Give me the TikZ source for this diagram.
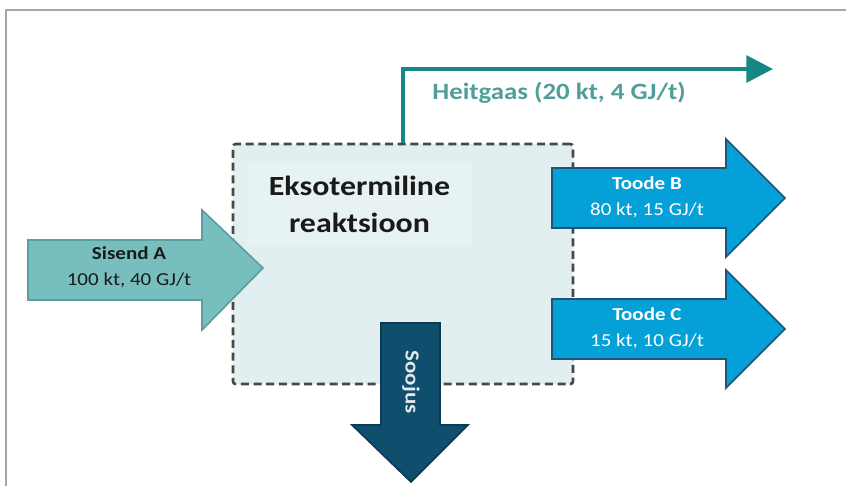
\documentclass[tikz,border=0pt]{standalone}
\usepackage{fontspec}
\setmainfont{Carlito}[FakeStretch=1.15]
\usepackage{tikz}
\usetikzlibrary{arrows.meta,positioning}
\definecolor{framegrey}{HTML}{A6A6A6}
\definecolor{boxfill}{HTML}{E1EFF0}
\definecolor{boxedge}{HTML}{474747}
\definecolor{titlefill}{HTML}{E7F3F3}
\definecolor{feedfill}{HTML}{78BEBF}
\definecolor{feededge}{HTML}{5A9E9F}
\definecolor{prodfill}{HTML}{05A0D7}
\definecolor{prodedge}{HTML}{1C5578}
\definecolor{heatfill}{HTML}{0F4E6C}
\definecolor{heatedge}{HTML}{0B3A52}
\definecolor{gasline}{HTML}{168883}
\definecolor{gastext}{HTML}{4F9E99}
\definecolor{ink}{HTML}{1A1A1A}

\begin{document}
\begin{tikzpicture}[x=0.75pt,y=-0.75pt,
    blockarrow/.style={line width=1.2pt,line join=miter},
    flowlabel/.style={align=center,inner sep=0pt,font=\fontsize{13.7}{19.5}\selectfont}]
  \useasboundingbox (0,0) rectangle (846,486);
  \draw[framegrey,line width=1.5pt] (6,486) -- (6,10) -- (846,10);

  % reactor
  \node[draw=boxedge,fill=boxfill,line width=2pt,dash pattern=on 6pt off 3.5pt,
        rounded corners=2pt,minimum width=255pt,minimum height=180pt] (reactor) at (403,264) {};
  \node[fill=titlefill,text=ink,minimum width=168.75pt,minimum height=63pt,align=center,
        font=\fontsize{20.8}{27.75}\selectfont\bfseries] (title) at (359.5,204) {Eksotermiline\\reaktsioon};

  % flue gas
  \coordinate (gasout) at (773,69);
  \draw[gasline,line width=3pt,-{Triangle[length=20pt,width=20pt]}] (reactor.north) |- (gasout);
  \node[text=gastext,font=\fontsize{17.5}{21}\selectfont\bfseries] (gaslabel) at (559,93) {Heitgaas (20 kt, 4 GJ/t)};

  % feed
  \filldraw[blockarrow,fill=feedfill,draw=feededge] (28,240) -- (202,240) -- (202,210) -- (263,268)
    -- (202,330) -- (202,300) -- (28,300) -- cycle;
  \node[flowlabel,text=ink] (feed) at (129,267.5) {\textbf{Sisend A}\\100 kt, 40 GJ/t};

  % products
  \foreach \nm/\yc/\lab/\val in {toodeb/198/Toode B/{80 kt, 15 GJ/t},
                                 toodec/329/Toode C/{15 kt, 10 GJ/t}} {
    \filldraw[blockarrow,fill=prodfill,draw=prodedge] (552,\yc-30) -- (726,\yc-30) -- (726,\yc-59)
      -- (785,\yc) -- (726,\yc+59) -- (726,\yc+30) -- (552,\yc+30) -- cycle;
    \node[flowlabel,text=white] (\nm) at (647,\yc-1) {\textbf{\lab}\\\val};
  }

  % heat
  \filldraw[blockarrow,fill=heatfill,draw=heatedge] (381,323) -- (440,323) -- (440,425) -- (468,425)
    -- (411,482) -- (352,425) -- (381,425) -- cycle;
  \node[rotate=-90,text=white!88!heatfill,font=\fontsize{15}{18}\selectfont\bfseries] (heat) at (411,382) {Soojus};
\end{tikzpicture}
\end{document}
